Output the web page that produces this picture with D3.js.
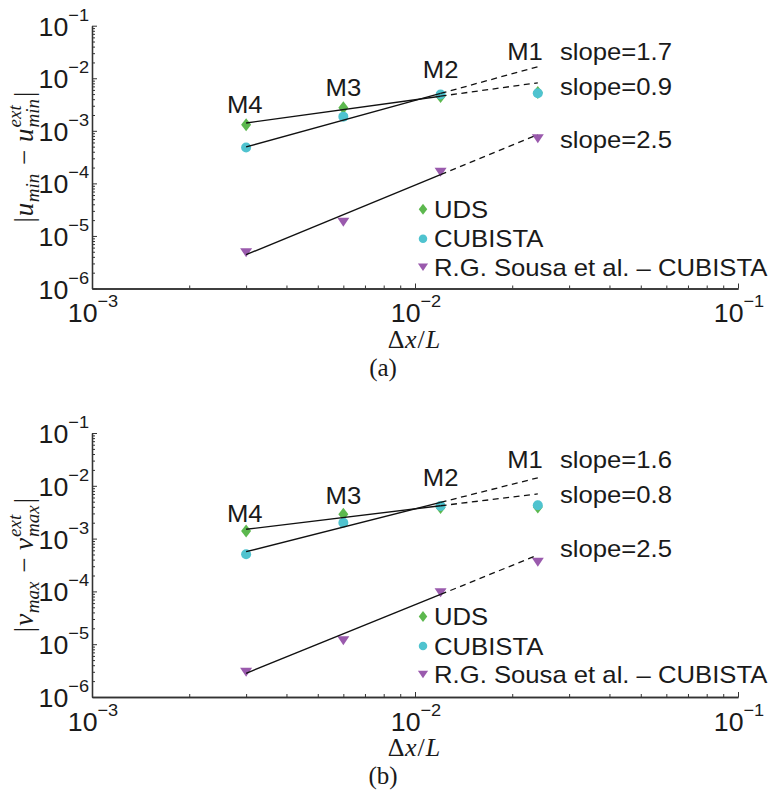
<!DOCTYPE html>
<html><head><meta charset="utf-8">
<script src="https://cdn.jsdelivr.net/npm/d3@7"></script>
<style>body{margin:0;background:#fff}</style>
</head><body>
<svg id="chart" width="771" height="793"></svg>
<script>
// ---------- data ----------
const dx = [0.003, 0.006, 0.012, 0.024];            // Δx/L for M4..M1
const meshLabels = ["M4", "M3", "M2", "M1"];
const seriesNames = ["UDS", "CUBISTA", "R.G. Sousa et al. \u2013 CUBISTA"];
const xMajorTicks = [1e-3, 1e-2, 1e-1];
const xTickExp = ["\u22123", "\u22122", "\u22121"];
const yMajorTicks = [1e-1, 1e-2, 1e-3, 1e-4, 1e-5, 1e-6];
const yTickExp = ["\u22121", "\u22122", "\u22123", "\u22124", "\u22125", "\u22126"];

// panel (a)
const udsA = [1.31e-3, 2.76e-3, 4.5e-3, 5.36e-3];
const cubA = [4.8e-4, 1.86e-3, 4.9e-3, 5.2e-3];
const sousaA = [4.8e-6, 1.82e-5, 1.62e-4, 7.1e-4];
const fitUdsA = [1.41e-3, 8.2e-3];     // fit values at M4 and M1
const fitCubA = [4.94e-4, 1.66e-2];
const fitSousaA = [4.4e-6, 8.5e-4];
const slopeTextA = ["slope=1.7", "slope=0.9", "slope=2.5"];
const slopeYA = [2.23e-2, 4.83e-3, 4.77e-4];
const meshYA = [2.2e-3, 4.6e-3, 1.02e-2, 2.23e-2];

// panel (b)
const udsB = [1.39e-3, 2.89e-3, 3.88e-3, 3.95e-3];
const cubB = [5.05e-4, 2.0e-3, 4.14e-3, 4.27e-3];
const sousaB = [2.94e-6, 1.16e-5, 9.4e-5, 3.56e-4];
const fitUdsB = [1.5e-3, 7.0e-3];
const fitCubB = [5.65e-4, 1.42e-2];
const fitSousaB = [2.81e-6, 4.89e-4];
const slopeTextB = ["slope=1.6", "slope=0.8", "slope=2.5"];
const slopeYB = [2.17e-2, 4.72e-3, 4.49e-4];
const meshYB = [2.06e-3, 4.52e-3, 9.9e-3, 2.17e-2];

const meshLabelX = [0.00297, 0.006, 0.012, 0.0219];
const slopeLabelX = 0.0281;

// ---------- styles ----------
const colors = ["#5cb84e", "#4fc3cf", "#9a5aad"];
const SANS = "'Liberation Sans', Arial, Helvetica, sans-serif";
const SERIF = "'Liberation Serif', 'Times New Roman', serif";
const TXT = "#1a1a1a";
const SX = 1.07;   // horizontal stretch of sans text, as in the reference

const svg = d3.select("#chart");
svg.append("rect").attr("width", 771).attr("height", 793).attr("fill", "#fff");

const panels = [
  {top: 25.7, bottom: 288.5, data: [udsA, cubA, sousaA], fits: [fitCubA, fitUdsA, fitSousaA],
   slopeText: slopeTextA, slopeY: slopeYA, meshY: meshYA, letter: "u", sub: "min", caption: "(a)"},
  {top: 433, bottom: 697, data: [udsB, cubB, sousaB], fits: [fitCubB, fitUdsB, fitSousaB],
   slopeText: slopeTextB, slopeY: slopeYB, meshY: meshYB, letter: "v", sub: "max", caption: "(b)"}
];

const x = d3.scaleLog().domain([1e-3, 1e-1]).range([92, 738]);

function markerPath(i, s) {
  if (i === 0) return `M0,${-6.5*s}L${5*s},0L0,${6.5*s}L${-5*s},0Z`;
  if (i === 1) return d3.symbol(d3.symbolCircle, Math.PI * 25 * s * s)();
  return `M${-6*s},${-4.5*s}L${6*s},${-4.5*s}L0,${4.5*s}Z`;
}

function sansText(parent, px, py, size, anchor) {
  return parent.append("text")
    .attr("transform", `translate(${px},${py}) scale(${SX},1)`)
    .attr("text-anchor", anchor || "start")
    .attr("font-family", SANS).attr("font-size", size).attr("fill", TXT);
}

function mathText(parent, pieces) {
  const g = parent.append("g");
  let pos = 0, stackMax = 0;
  pieces.forEach(p => {
    const t = g.append("text").attr("x", pos).attr("y", p.dy || 0)
      .attr("font-family", SERIF).attr("font-size", p.size)
      .attr("font-style", p.it ? "italic" : "normal").attr("fill", TXT)
      .style("white-space", "pre").text(p.t);
    const w = t.node().getComputedTextLength();
    if (p.stack) { stackMax = Math.max(stackMax, w); }
    else if (p.endStack) { stackMax = Math.max(stackMax, w); pos += stackMax + (p.gap || 0); stackMax = 0; }
    else pos += w + (p.gap || 0);
  });
  return {g, len: pos};
}

panels.forEach(P => {
  const y = d3.scaleLog().domain([1e-6, 1e-1]).range([P.bottom, P.top]);
  const root = svg.append("g");

  // minor ticks
  const yMinor = [], xMinor = [];
  for (let k = -6; k <= -2; k++) for (let m = 2; m <= 9; m++) yMinor.push(m * Math.pow(10, k));
  for (let k = -3; k <= -2; k++) for (let m = 2; m <= 9; m++) xMinor.push(m * Math.pow(10, k));

  const styleAxis = sel => {
    sel.selectAll("path.domain").attr("stroke", "#333").attr("stroke-width", 1.3);
    sel.selectAll(".tick line").attr("stroke", "#333").attr("stroke-width", 1);
    sel.selectAll(".tick text").remove();
  };
  root.append("g").attr("transform", `translate(92,0)`)
    .call(d3.axisLeft(y).tickValues(yMinor).tickSizeInner(-3).tickSizeOuter(0).tickFormat(""))
    .call(styleAxis);
  root.append("g").attr("transform", `translate(92,0)`)
    .call(d3.axisLeft(y).tickValues(yMajorTicks).tickSizeInner(-5).tickSizeOuter(0).tickFormat(""))
    .call(styleAxis);
  root.append("g").attr("transform", `translate(0,${P.bottom})`)
    .call(d3.axisBottom(x).tickValues(xMinor).tickSizeInner(-3).tickSizeOuter(0).tickFormat(""))
    .call(styleAxis);
  root.append("g").attr("transform", `translate(0,${P.bottom})`)
    .call(d3.axisBottom(x).tickValues(xMajorTicks).tickSizeInner(-5).tickSizeOuter(0).tickFormat(""))
    .call(styleAxis);

  // y tick labels
  yMajorTicks.forEach((v, i) => {
    const t = sansText(root, 89, y(v) + 10, 25, "end");
    t.append("tspan").text("10");
    t.append("tspan").attr("font-size", 17).attr("dy", -15).text(yTickExp[i]);
  });
  // x tick labels
  xMajorTicks.forEach((v, i) => {
    const t = sansText(root, x(v) + 1, P.bottom + 33.5, 25, "middle");
    t.append("tspan").text("10");
    t.append("tspan").attr("font-size", 17).attr("dy", -15).text(xTickExp[i]);
  });

  // markers
  P.data.forEach((vals, si) => {
    root.append("g").selectAll("path").data(vals).join("path")
      .attr("transform", (d, i) => `translate(${x(dx[i])},${y(d)})`)
      .attr("d", markerPath(si, 1)).attr("fill", colors[si]);
  });
  // fit lines: solid over M4–M2, dashed extension to M1
  P.fits.forEach(f => {
    const p = Math.log(f[1] / f[0]) / Math.log(dx[3] / dx[0]);
    const fv = xx => f[0] * Math.pow(xx / dx[0], p);
    const line = d3.line().x(d => x(d)).y(d => y(fv(d)));
    root.append("path").attr("d", line([dx[0], dx[2]])).attr("fill", "none")
      .attr("stroke", "#111").attr("stroke-width", 1.4);
    root.append("path").attr("d", line([dx[2], dx[3]])).attr("fill", "none")
      .attr("stroke", "#111").attr("stroke-width", 1.3).attr("stroke-dasharray", "6,4.5");
  });

  // mesh labels
  meshLabels.forEach((m, i) => {
    sansText(root, x(meshLabelX[i]), y(P.meshY[i]), 24, "middle").text(m);
  });
  // slope labels
  P.slopeText.forEach((s, i) => {
    sansText(root, x(slopeLabelX), y(P.slopeY[i]), 24).text(s);
  });

  // legend
  const legOff = [183.5, 213, 241.5];
  seriesNames.forEach((n, i) => {
    const cy = P.top + legOff[i];
    root.append("path").attr("transform", `translate(423,${cy})`).attr("d", markerPath(i, 0.85))
      .attr("fill", colors[i]);
    sansText(root, 434, cy + 8.5, 24).text(n);
  });

  // x axis label Δx/L
  const xl = mathText(root, [
    {t: "\u0394", size: 26, gap: 0.5}, {t: "x", size: 26, it: true, gap: 1},
    {t: "/", size: 26, gap: 1}, {t: "L", size: 26, it: true}
  ]);
  xl.g.attr("transform", `translate(${414 - xl.len / 2},${P.bottom + 59})`);
  // caption
  root.append("text").attr("x", 383).attr("y", P.bottom + 87).attr("text-anchor", "middle")
    .attr("font-family", SERIF).attr("font-size", 25).attr("fill", TXT).text(P.caption);

  // y axis label |u_min − u_min^ext|
  const yl = mathText(root, [
    {t: "|", size: 27, gap: 1}, {t: P.letter, size: 27, it: true, gap: 0.5},
    {t: P.sub, size: 19, it: true, dy: 6, gap: 2},
    {t: " \u2212 ", size: 27, gap: 1}, {t: P.letter, size: 27, it: true, gap: 1},
    {t: "ext", size: 19, it: true, dy: -12, stack: true},
    {t: P.sub, size: 19, it: true, dy: 6, endStack: true, gap: 2},
    {t: "|", size: 27}
  ]);
  yl.g.attr("transform", `translate(33,${(P.top + P.bottom) / 2}) rotate(-90) translate(${-yl.len / 2},0)`);
});
</script>
</body></html>
